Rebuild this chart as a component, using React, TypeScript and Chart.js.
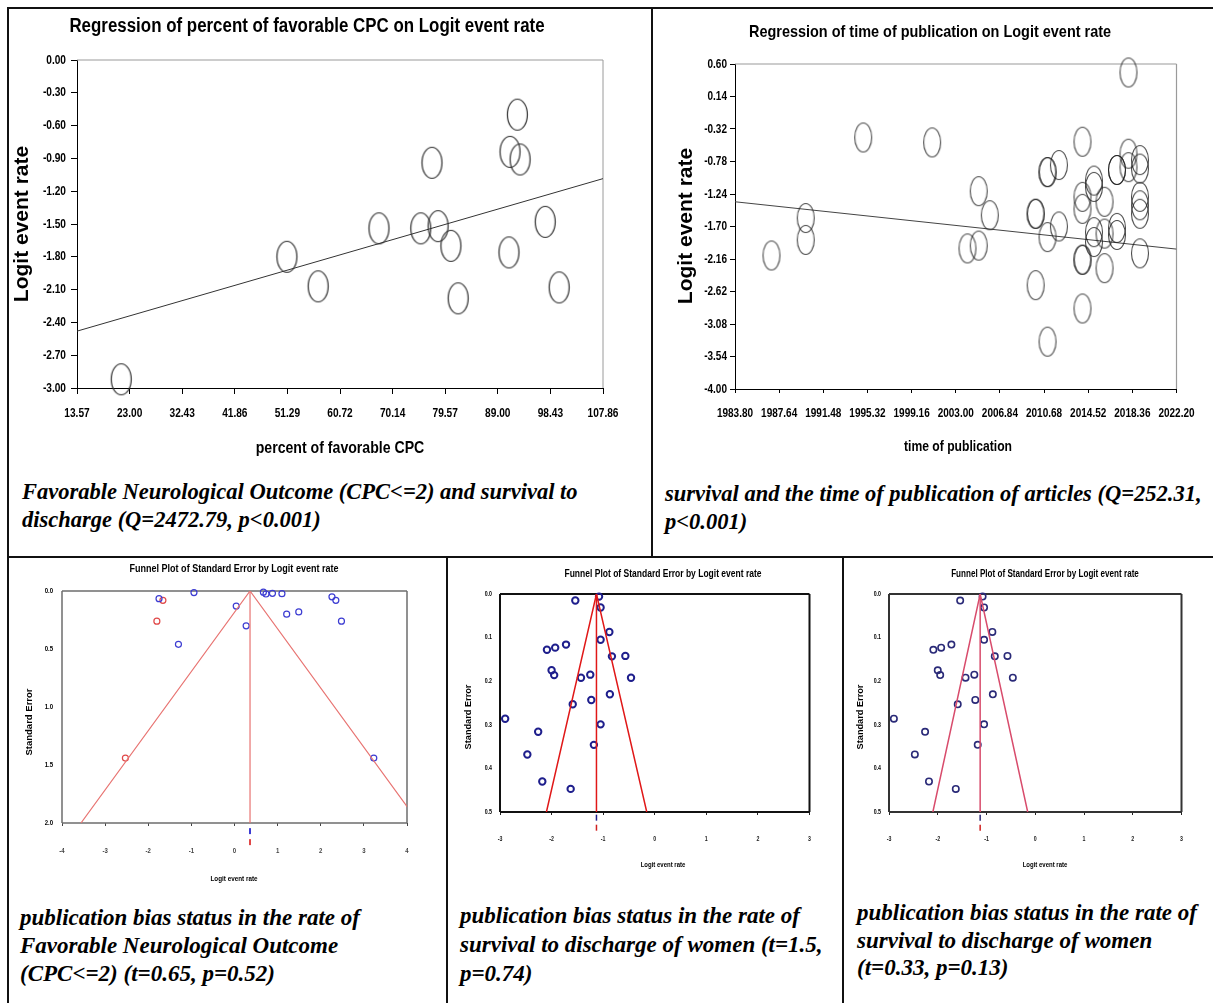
import React, { useEffect, useRef } from "react";
import { Chart, registerables } from "chart.js";

Chart.register(...registerables);

const SANS = "'Liberation Sans', Arial, sans-serif";
const SERIF = "'Liberation Serif', 'Times New Roman', serif";

// ---- Regression of percent of favorable CPC on logit event rate
const cpcPercent = [21.5, 51.2, 56.8, 67.7, 75.2, 77.2, 78.3, 80.6, 81.9, 91.0, 91.2, 92.5, 93.0, 97.5, 100.0];
const cpcLogit = [-2.92, -1.8, -2.07, -1.54, -1.54, -0.94, -1.52, -1.7, -2.18, -1.76, -0.84, -0.5, -0.91, -1.48, -2.08];
const cpcFitPercent = [13.57, 107.86];
const cpcFitLogit = [-2.48, -1.085];
const cpcXTicks = [13.57, 23.0, 32.43, 41.86, 51.29, 60.72, 70.14, 79.57, 89.0, 98.43, 107.86];
const cpcYTicks = [0, -0.3, -0.6, -0.9, -1.2, -1.5, -1.8, -2.1, -2.4, -2.7, -3.0];

// ---- Regression of time of publication on logit event rate
const pubYear = [
  1986.97, 1989.95, 1989.95, 1994.95, 2000.95, 2004.02, 2005.0, 2005.0, 2005.96,
  2009.95, 2009.95, 2009.95, 2010.98, 2010.98, 2010.98, 2010.98, 2011.97, 2011.97,
  2014.02, 2014.02, 2014.02, 2014.02, 2014.02, 2014.02, 2015.02, 2015.02, 2015.02, 2015.02,
  2015.94, 2015.94, 2015.94, 2017.02, 2017.02, 2017.02, 2017.02, 2018.02, 2018.02, 2018.02,
  2019.02, 2019.02, 2019.02, 2019.02, 2019.02, 2019.02,
];
const pubLogit = [
  -2.11, -1.58, -1.89, -0.44, -0.51, -2.01, -1.2, -1.97, -1.54,
  -1.52, -1.52, -2.53, -0.93, -0.93, -1.85, -3.33, -0.83, -1.7,
  -0.5, -1.28, -1.45, -2.17, -2.17, -2.86, -1.05, -1.14, -1.78, -1.92,
  -1.35, -1.8, -2.29, -0.9, -0.9, -1.72, -1.82, 0.48, -0.67, -0.86,
  -0.76, -0.88, -1.28, -1.4, -1.52, -2.08,
];
const pubFitYear = [1983.8, 2022.2];
const pubFitLogit = [-1.35, -2.02];
const pubXTicks = [1983.8, 1987.64, 1991.48, 1995.32, 1999.16, 2003.0, 2006.84, 2010.68, 2014.52, 2018.36, 2022.2];
const pubYTicks = [0.6, 0.14, -0.32, -0.78, -1.24, -1.7, -2.16, -2.62, -3.08, -3.54, -4.0];

// ---- Funnel plot: favorable neurological outcome (observed + imputed studies)
const fnoObservedLogit = [-1.75, -0.94, 0.04, 0.27, -1.3, 0.67, 0.73, 0.88, 1.1, 1.21, 1.49, 2.26, 2.35, 2.48, 3.23];
const fnoObservedSE = [0.066, 0.014, 0.13, 0.3, 0.46, 0.01, 0.026, 0.02, 0.023, 0.2, 0.18, 0.05, 0.08, 0.26, 1.44];
const fnoImputedLogit = [-1.66, -1.8, -2.53];
const fnoImputedSE = [0.08, 0.26, 1.44];
const fnoPooled = [0.36, 0.36];
const fnoPooledSE = [0, 2];
const fnoFunnelLogit = [-3.56, 0.36, 4.28];
const fnoFunnelSE = [2, 0, 2];
const fnoSummaryLogit = [0.36, 0.36];
const fnoSummarySE = [2.07, 2.165];
const fnoXTicks = [-4, -3, -2, -1, 0, 1, 2, 3, 4];
const fnoYTicks = [0, 0.5, 1.0, 1.5, 2.0];

// ---- Funnel plot: survival to discharge of women
const womenLogit = [
  -1.08, -1.54, -1.05, -0.88, -1.05, -1.72, -1.93, -2.09, -0.83, -0.57, -2.0, -1.95, -1.43,
  -1.25, -0.46, -0.87, -1.59, -1.23, -2.9, -1.05, -2.26, -1.18, -2.47, -2.18, -1.63,
];
const womenSE = [
  0.006, 0.015, 0.031, 0.087, 0.105, 0.116, 0.123, 0.128, 0.143, 0.142, 0.175, 0.186, 0.192,
  0.185, 0.192, 0.23, 0.253, 0.243, 0.286, 0.299, 0.316, 0.346, 0.368, 0.43, 0.447,
];
const womenPooled = [-1.13, -1.13];
const womenPooledSE = [0, 0.5];
const womenFunnelLogit = [-2.1, -1.13, -0.155];
const womenFunnelSE = [0.5, 0, 0.5];
const womenSummaryLogit = [-1.13, -1.13];
const womenSummarySE = [0.513, 0.536];
const womenXTicks = [-3, -2, -1, 0, 1, 2, 3];
const womenYTicks = [0, 0.1, 0.2, 0.3, 0.4, 0.5];

const zip = (xs: number[], ys: number[]) => xs.map((x, i) => ({ x, y: ys[i] }));

// Outlined ellipse used as the bubble marker of the regression plots
function ellipseMarker(w: number, h: number, color: string, lw: number) {
  const c = document.createElement("canvas");
  c.width = Math.ceil(w + lw * 2 + 2);
  c.height = Math.ceil(h + lw * 2 + 2);
  const g = c.getContext("2d")!;
  g.strokeStyle = color;
  g.lineWidth = lw;
  g.beginPath();
  g.ellipse(c.width / 2, c.height / 2, w / 2, h / 2, 0, 0, Math.PI * 2);
  g.stroke();
  return c;
}

// Condensed lettering: every string is squeezed horizontally about its anchor point
const condensePlugin = {
  id: "condense",
  beforeInit(chart: any) {
    const ctx: any = chart.ctx;
    const raw = ctx.fillText;
    ctx.fillText = function (text: string, x: number, y: number, maxWidth?: number) {
      const k = ctx.textSqueeze ?? 1;
      if (k === 1) {
        return maxWidth === undefined ? raw.call(ctx, text, x, y) : raw.call(ctx, text, x, y, maxWidth);
      }
      ctx.save();
      ctx.translate(x, y);
      ctx.scale(k, 1);
      raw.call(ctx, text, 0, 0);
      ctx.restore();
    };
  },
  beforeDraw(chart: any, _a: any, opts: any) {
    chart.ctx.textSqueeze = opts.squeeze ?? 1;
  },
};

// Plot frame along the chart area edges
const framePlugin = {
  id: "frame",
  beforeDatasetsDraw(chart: any, _a: any, opts: any) {
    const { left, top, right, bottom } = chart.chartArea;
    const ctx = chart.ctx;
    ctx.save();
    ctx.strokeStyle = opts.color;
    ctx.lineWidth = opts.width;
    ctx.beginPath();
    const s: string[] = opts.sides || [];
    if (s.includes("top")) { ctx.moveTo(left, top); ctx.lineTo(right, top); }
    if (s.includes("right")) { ctx.moveTo(right, top); ctx.lineTo(right, bottom); }
    if (s.includes("bottom")) { ctx.moveTo(left, bottom); ctx.lineTo(right, bottom); }
    if (s.includes("left")) { ctx.moveTo(left, top); ctx.lineTo(left, bottom); }
    ctx.stroke();
    ctx.restore();
  },
};

// Chart and axis titles
const textPlugin = {
  id: "chartTexts",
  afterDraw(chart: any, _a: any, opts: any) {
    const ctx: any = chart.ctx;
    const keep = ctx.textSqueeze;
    for (const t of opts.items || []) {
      ctx.save();
      ctx.font = t.font;
      ctx.fillStyle = t.color || "#000";
      ctx.textAlign = "center";
      ctx.textBaseline = "middle";
      ctx.translate(t.x, t.y);
      if (t.rotate) ctx.rotate((t.rotate * Math.PI) / 180);
      ctx.textSqueeze = t.sx ?? 1;
      ctx.fillText(t.text, 0, 0);
      ctx.restore();
    }
    ctx.textSqueeze = keep;
  },
};

type AxisOpts = {
  position: "left" | "bottom";
  min: number;
  max: number;
  values: number[];
  fmt: (v: number) => string;
  size: number;
  font: any;
  padding: number;
  tickLength: number;
  reverse?: boolean;
  border?: boolean;
  color?: string;
};

function axis(o: AxisOpts) {
  return {
    type: "linear",
    position: o.position,
    min: o.min,
    max: o.max,
    reverse: !!o.reverse,
    afterBuildTicks: (s: any) => {
      s.ticks = o.values.map((v) => ({ value: v }));
    },
    afterFit: (s: any) => {
      if (o.position === "left") s.width = o.size;
      else s.height = o.size;
    },
    ticks: {
      autoSkip: false,
      maxRotation: 0,
      minRotation: 0,
      padding: o.padding,
      color: o.color || "#000",
      font: o.font,
      callback: (_v: any, i: number) => o.fmt(o.values[i]),
    },
    grid: {
      display: o.tickLength > 0,
      drawOnChartArea: false,
      drawTicks: o.tickLength > 0,
      tickLength: o.tickLength,
      color: o.color || "#000",
      lineWidth: 1,
    },
    border: { display: o.border !== false, color: "#000", width: 1 },
  };
}

function baseOptions(padding: any, scales: any, extra: any) {
  return {
    responsive: false,
    animation: false,
    events: [],
    layout: { padding },
    plugins: {
      legend: { display: false },
      tooltip: { enabled: false },
      title: { display: false },
      ...extra,
    },
    scales,
  };
}

const PLUGINS = [condensePlugin, framePlugin, textPlugin];

function regressionCpcConfig() {
  const tickFont = { family: SANS, size: 13, weight: "bold" };
  return {
    type: "scatter",
    data: {
      datasets: [
        { data: zip(cpcPercent, cpcLogit), pointStyle: ellipseMarker(20, 31, "#2e2e2e", 1.2), pointRadius: 10, clip: false },
        { data: zip(cpcFitPercent, cpcFitLogit), showLine: true, pointRadius: 0, borderColor: "#333", borderWidth: 1 },
      ],
    },
    options: baseOptions(
      { top: 50, right: 47, left: 0, bottom: 0 },
      {
        x: axis({ position: "bottom", min: 13.57, max: 107.86, values: cpcXTicks, fmt: (v) => v.toFixed(2), size: 82, font: tickFont, padding: 12, tickLength: 6 }),
        y: axis({ position: "left", min: -3, max: 0, values: cpcYTicks, fmt: (v) => v.toFixed(2), size: 67, font: tickFont, padding: 5, tickLength: 6 }),
      },
      {
        condense: { squeeze: 0.78 },
        frame: { color: "#9a9a9a", width: 1, sides: ["top", "right"] },
        chartTexts: {
          items: [
            { text: "Regression of percent of favorable CPC on Logit event rate", x: 297, y: 16, font: `bold 20px ${SANS}`, sx: 0.845 },
            { text: "Logit event rate", x: 12, y: 214, rotate: -90, font: `bold 21px ${SANS}` },
            { text: "percent of favorable CPC", x: 330, y: 438, font: `bold 17px ${SANS}`, sx: 0.83 },
          ],
        },
      }
    ),
    plugins: PLUGINS,
  };
}

function regressionYearConfig() {
  const tickFont = { family: SANS, size: 13, weight: "bold" };
  return {
    type: "scatter",
    data: {
      datasets: [
        { data: zip(pubYear, pubLogit), pointStyle: ellipseMarker(17, 29, "rgba(30,30,30,0.8)", 1.1), pointRadius: 10, clip: false },
        { data: zip(pubFitYear, pubFitLogit), showLine: true, pointRadius: 0, borderColor: "#444", borderWidth: 1 },
      ],
    },
    options: baseOptions(
      { top: 54, right: 29, left: 0, bottom: 0 },
      {
        x: axis({ position: "bottom", min: 1983.8, max: 2022.2, values: pubXTicks, fmt: (v) => v.toFixed(2), size: 81, font: tickFont, padding: 13, tickLength: 4 }),
        y: axis({ position: "left", min: -4, max: 0.6, values: pubYTicks, fmt: (v) => v.toFixed(2), size: 80, font: tickFont, padding: 3, tickLength: 5 }),
      },
      {
        condense: { squeeze: 0.77 },
        frame: { color: "#9a9a9a", width: 1.2, sides: ["top", "right"] },
        chartTexts: {
          items: [
            { text: "Regression of time of publication on Logit event rate", x: 275, y: 22, font: `bold 17px ${SANS}`, sx: 0.85 },
            { text: "Logit event rate", x: 31, y: 216, rotate: -90, font: `bold 21px ${SANS}` },
            { text: "time of publication", x: 303, y: 437, font: `bold 15px ${SANS}`, sx: 0.81 },
          ],
        },
      }
    ),
    plugins: PLUGINS,
  };
}

function fnoFunnelConfig() {
  const tickFont = { family: SANS, size: 7.5, weight: "bold" };
  return {
    type: "scatter",
    data: {
      datasets: [
        { data: zip(fnoFunnelLogit, fnoFunnelSE), showLine: true, pointRadius: 0, borderColor: "#e87472", borderWidth: 1.2 },
        { data: zip(fnoPooled, fnoPooledSE), showLine: true, pointRadius: 0, borderColor: "#e87472", borderWidth: 1.2 },
        { data: zip(fnoObservedLogit, fnoObservedSE), pointStyle: "circle", pointRadius: 3, borderColor: "#3c3cd2", borderWidth: 1.2, backgroundColor: "rgba(0,0,0,0)", clip: false },
        { data: zip(fnoImputedLogit, fnoImputedSE), pointStyle: "circle", pointRadius: 3, borderColor: "#e04848", borderWidth: 1.2, backgroundColor: "rgba(0,0,0,0)", clip: false },
        {
          data: zip(fnoSummaryLogit, fnoSummarySE),
          pointStyle: "line", rotation: 90, pointRadius: 3, hoverRadius: 30, borderWidth: 2,
          pointBorderColor: ["#3c3cd2", "#e04848"], borderColor: ["#3c3cd2", "#e04848"], clip: false,
        },
      ],
    },
    options: baseOptions(
      { top: 32, right: 38, left: 0, bottom: 0 },
      {
        x: axis({ position: "bottom", min: -4, max: 4, values: fnoXTicks, fmt: (v) => String(v), size: 66, font: tickFont, padding: 20, tickLength: 3, border: false, color: "#444" }),
        y: axis({ position: "left", min: 0, max: 2, reverse: true, values: fnoYTicks, fmt: (v) => v.toFixed(1), size: 52, font: tickFont, padding: 9, tickLength: 0, border: false }),
      },
      {
        condense: { squeeze: 0.8 },
        frame: { color: "#6e6e6e", width: 1.5, sides: ["top", "right", "bottom", "left"] },
        chartTexts: {
          items: [
            { text: "Funnel Plot of Standard Error by Logit event rate", x: 224, y: 10, font: `bold 11px ${SANS}`, sx: 0.82 },
            { text: "Standard Error", x: 19, y: 163, rotate: -90, font: `bold 9.5px ${SANS}` },
            { text: "Logit event rate", x: 224, y: 320, font: `bold 8px ${SANS}`, sx: 0.79 },
          ],
        },
      }
    ),
    plugins: PLUGINS,
  };
}

function womenFunnelConfig(style: {
  point: string; funnel: string; frame: string; pointWidth: number; yWidth: number; cx: number; yTitleX: number; titleSize: number;
}) {
  const tickFont = { family: SANS, size: 6.5, weight: "bold" };
  return {
    type: "scatter",
    data: {
      datasets: [
        { data: zip(womenFunnelLogit, womenFunnelSE), showLine: true, pointRadius: 0, borderColor: style.funnel, borderWidth: 1.5 },
        { data: zip(womenPooled, womenPooledSE), showLine: true, pointRadius: 0, borderColor: style.funnel, borderWidth: 1.5 },
        { data: zip(womenLogit, womenSE), pointStyle: "circle", pointRadius: 3.2, borderColor: style.point, borderWidth: style.pointWidth, backgroundColor: "rgba(0,0,0,0)", clip: false },
        {
          data: zip(womenSummaryLogit, womenSummarySE),
          pointStyle: "line", rotation: 90, pointRadius: 3, hoverRadius: 30, borderWidth: 1.5,
          pointBorderColor: [style.point, "#d02020"], borderColor: [style.point, "#d02020"], clip: false,
        },
      ],
    },
    options: baseOptions(
      { top: 32, right: 12, left: 0, bottom: 0 },
      {
        x: axis({ position: "bottom", min: -3, max: 3, values: womenXTicks, fmt: (v) => String(v), size: 70, font: tickFont, padding: 20, tickLength: 3, border: false, color: "#222" }),
        y: axis({ position: "left", min: 0, max: 0.5, reverse: true, values: womenYTicks, fmt: (v) => v.toFixed(1), size: style.yWidth, font: tickFont, padding: 8, tickLength: 0, border: false }),
      },
      {
        condense: { squeeze: 0.81 },
        frame: { color: style.frame, width: 2, sides: ["top", "right", "bottom", "left"] },
        chartTexts: {
          items: [
            { text: "Funnel Plot of Standard Error by Logit event rate", x: style.cx, y: 12, font: `bold ${style.titleSize}px ${SANS}`, sx: 0.81 },
            { text: "Standard Error", x: style.yTitleX, y: 155, rotate: -90, font: `bold 9.2px ${SANS}` },
            { text: "Logit event rate", x: style.cx, y: 303, font: `bold 7.5px ${SANS}`, sx: 0.8 },
          ],
        },
      }
    ),
    plugins: PLUGINS,
  };
}

function PlotCanvas(props: { left: number; top: number; width: number; height: number; make: () => any; css?: any }) {
  const ref = useRef<HTMLCanvasElement>(null);
  useEffect(() => {
    const chart = new Chart(ref.current as HTMLCanvasElement, props.make());
    return () => chart.destroy();
  }, []);
  return (
    <canvas
      ref={ref}
      width={props.width}
      height={props.height}
      style={{ position: "absolute", left: props.left, top: props.top, width: props.width, height: props.height, ...(props.css || {}) }}
    />
  );
}

const captionStyle: React.CSSProperties = {
  position: "absolute",
  font: `italic bold 22.5px ${SERIF}`,
  lineHeight: "28px",
  whiteSpace: "pre",
  color: "#000",
};

function Rule(p: { l: number; t: number; w: number; h: number }) {
  return <div style={{ position: "absolute", left: p.l, top: p.t, width: p.w, height: p.h, background: "#111" }} />;
}

export default function App() {
  const womenMiddle = () =>
    womenFunnelConfig({ point: "#1e1e8c", funnel: "#e01818", frame: "#111", pointWidth: 2, yWidth: 51, cx: 214, yTitleX: 19, titleSize: 10.5 });
  const womenRight = () =>
    womenFunnelConfig({ point: "#2a2a78", funnel: "#d84c6c", frame: "#333", pointWidth: 1.6, yWidth: 44, cx: 200, yTitleX: 15, titleSize: 10 });

  return (
    <div style={{ position: "absolute", left: 0, top: 0, width: 1213, height: 1003, background: "#fff", overflow: "hidden" }}>
      <Rule l={7} t={7} w={1206} h={2} />
      <Rule l={7} t={7} w={2} h={996} />
      <Rule l={651} t={7} w={2} h={551} />
      <Rule l={7} t={556} w={1206} h={2} />
      <Rule l={446} t={556} w={2} h={447} />
      <Rule l={842} t={556} w={2} h={447} />

      <PlotCanvas left={10} top={10} width={640} height={460} make={regressionCpcConfig} />
      <PlotCanvas left={655} top={10} width={558} height={460} make={regressionYearConfig} />
      <PlotCanvas left={10} top={559} width={435} height={330} make={fnoFunnelConfig} />
      <PlotCanvas left={449} top={562} width={392} height={320} make={womenMiddle} />
      <PlotCanvas left={845} top={562} width={368} height={320} make={womenRight} css={{ filter: "blur(0.7px)" }} />

      <div style={{ ...captionStyle, left: 22, top: 478 }}>
        {"Favorable Neurological Outcome (CPC<=2) and survival to\ndischarge (Q=2472.79, p<0.001)"}
      </div>
      <div style={{ ...captionStyle, left: 665, top: 480 }}>
        {"survival and the time of publication of articles (Q=252.31,\np<0.001)"}
      </div>
      <div style={{ ...captionStyle, fontSize: 23, left: 20, top: 904 }}>
        {"publication bias status in the rate of\nFavorable Neurological Outcome\n(CPC<=2) (t=0.65, p=0.52)"}
      </div>
      <div style={{ ...captionStyle, fontSize: 23, left: 460, top: 901, lineHeight: "29px" }}>
        {"publication bias status in the rate of\nsurvival to discharge of women (t=1.5,\np=0.74)"}
      </div>
      <div style={{ ...captionStyle, fontSize: 23, left: 857, top: 899, lineHeight: "27.5px" }}>
        {"publication bias status in the rate of\nsurvival to discharge of women\n(t=0.33, p=0.13)"}
      </div>
    </div>
  );
}
